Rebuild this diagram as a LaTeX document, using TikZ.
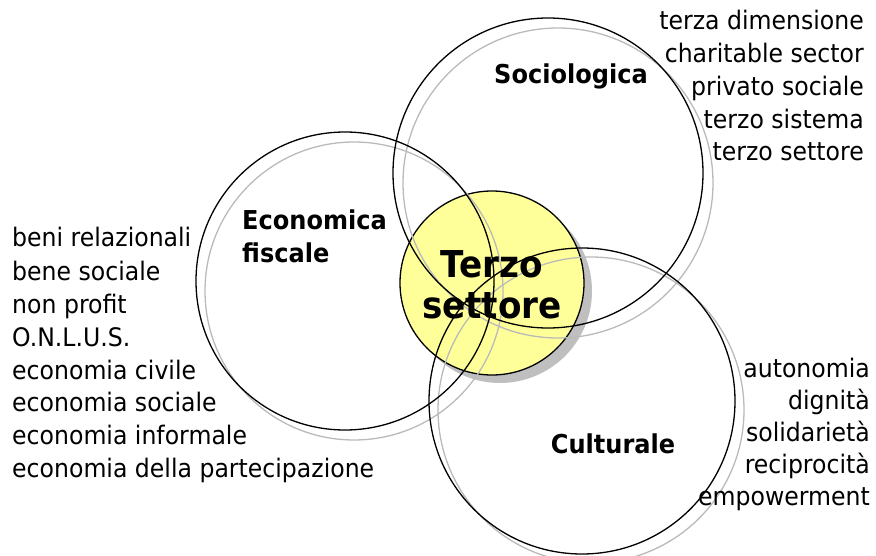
\documentclass[tikz,border=0pt]{standalone}
\usepackage{fontspec}
\setmainfont{DejaVu Sans}[FakeStretch=0.925]
\begin{document}
\begin{tikzpicture}[x=1pt,y=-1pt,
  ring/.style={circle,draw=black,line width=1.3pt,minimum size=#1,inner sep=0pt},
  ringshadow/.style={circle,draw=black!27,line width=1.3pt,minimum size=#1,inner sep=0pt},
  word/.style={inner sep=0pt,font=\fontsize{25.5}{33}\selectfont},
  title/.style={inner sep=0pt,font=\fontsize{26}{33}\selectfont\bfseries},
  big/.style={inner sep=0pt,font=\fontsize{37}{41}\selectfont\bfseries}]
\useasboundingbox (0,0) rectangle (876,556);
% centre circle with shadow
\node[circle,fill=black!25,minimum size=184pt,inner sep=0pt] (tsh) at (500,291) {};
\node[circle,fill={rgb,255:red,255;green,255;blue,153},draw=black,line width=1.3pt,minimum size=184pt,inner sep=0pt] (ts) at (492,283) {};
% big circles: grey offset copies, then black
\node[ringshadow=310pt] (socS) at (558,183) {};
\node[ringshadow=298pt] (ecoS) at (354,291) {};
\node[ringshadow=306pt] (culS) at (591,410) {};
\node[ring=310pt] (soc) at (548,173) {};
\node[ring=298pt] (eco) at (345,281) {};
\node[ring=306pt] (cul) at (582,401) {};
% titles
\node[title,anchor=base] (tsoc) at (571,84) {Sociologica};
\node[title,anchor=base west] (teco1) at (242,230) {Economica};
\node[title,anchor=base west] (teco2) at (242,263) {fiscale};
\node[title,anchor=base] (tcul) at (613,453) {Culturale};
\node[big,anchor=base] (tts1) at (492,277) {Terzo};
\node[big,anchor=base] (tts2) at (492,318) {settore};
% top right list
\node[word,anchor=base east] (s1) at (864,30) {terza dimensione};
\node[word,anchor=base east] (s2) at (864,63) {charitable sector};
\node[word,anchor=base east] (s3) at (864,96) {privato sociale};
\node[word,anchor=base east] (s4) at (864,129) {terzo sistema};
\node[word,anchor=base east] (s5) at (864,161) {terzo settore};
% left list
\node[word,anchor=base west] (e1) at (12,247) {beni relazionali};
\node[word,anchor=base west] (e2) at (12,280) {bene sociale};
\node[word,anchor=base west] (e3) at (12,313) {non profit};
\node[word,anchor=base west] (e4) at (12,346) {O.N.L.U.S.};
\node[word,anchor=base west] (e5) at (12,379) {economia civile};
\node[word,anchor=base west] (e6) at (12,411) {economia sociale};
\node[word,anchor=base west] (e7) at (12,444) {economia informale};
\node[word,anchor=base west] (e8) at (12,477) {economia della partecipazione};
% bottom right list
\node[word,anchor=base east] (c1) at (870,377) {autonomia};
\node[word,anchor=base east] (c2) at (870,409) {dignità};
\node[word,anchor=base east] (c3) at (870,441) {solidarietà\ };
\node[word,anchor=base east] (c4) at (870,473) {reciprocità};
\node[word,anchor=base east] (c5) at (870,505) {empowerment};
\end{tikzpicture}
\end{document}
